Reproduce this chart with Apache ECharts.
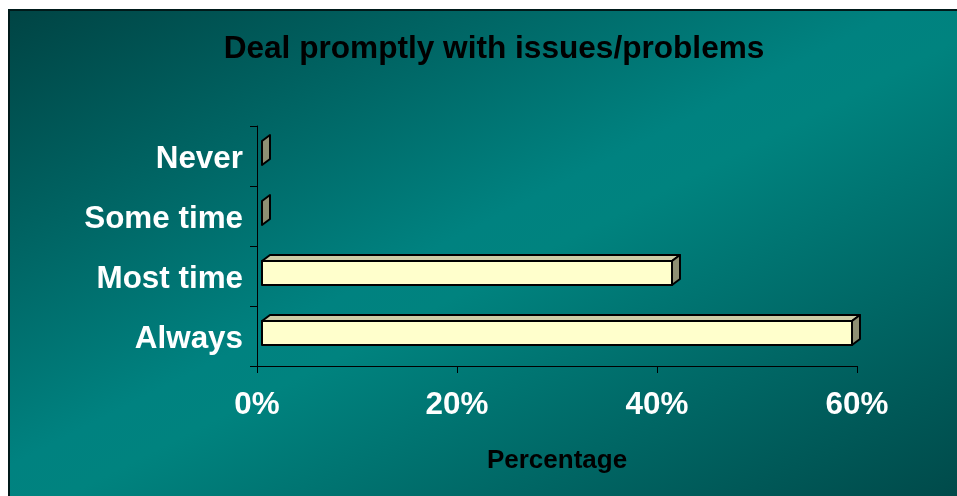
<!DOCTYPE html>
<html>
<head>
<meta charset="utf-8">
<script src="https://cdn.jsdelivr.net/npm/echarts@6/dist/echarts.min.js"></script>
<style>
html,body{margin:0;padding:0;background:#fff;}
#chart{width:957px;height:496px;}
</style>
</head>
<body>
<div id="chart"></div>
<script>
const categories = ['Never', 'Some time', 'Most time', 'Always'];
const percentages = [0, 0, 41, 59];
const xTicks = [0, 20, 40, 60];

const chart = echarts.init(document.getElementById('chart'), null, {renderer: 'canvas'});

const FONT = 'Liberation Sans, Arial, sans-serif';

function renderBox(params, api) {
  const val = api.value(0);
  const cat = api.value(1);
  const p0 = api.coord([0, cat]);
  const p1 = api.coord([val, cat]);
  const shift = 5, dx = 8, dy = -6;
  const xL = p0[0] + shift, xR = p1[0] + shift;
  const yT = p0[1] - 15, yB = p0[1] + 9;
  const stroke = {stroke: '#000', lineWidth: 2, lineJoin: 'round'};
  const children = [];
  if (xR - xL > 0.5) {
    children.push({
      type: 'polygon',
      shape: {points: [[xL, yT], [xL + dx, yT + dy], [xR + dx, yT + dy], [xR, yT]]},
      style: Object.assign({fill: '#CCCCA6'}, stroke)
    });
    children.push({
      type: 'rect',
      shape: {x: xL, y: yT, width: xR - xL, height: yB - yT},
      style: Object.assign({fill: '#FFFFCC'}, stroke)
    });
  }
  children.push({
    type: 'polygon',
    shape: {points: [[xR, yT], [xR + dx, yT + dy], [xR + dx, yB + dy], [xR, yB]]},
    style: Object.assign({fill: '#8F8F73'}, stroke)
  });
  return {type: 'group', children: children};
}

const option = {
  animation: false,
  backgroundColor: '#ffffff',
  graphic: [{
    type: 'rect',
    z: -10,
    silent: true,
    shape: {x: 9, y: 10, width: 960, height: 500},
    style: {
      fill: new echarts.graphic.LinearGradient(286, -132, 680, 638, [
        {offset: 0, color: '#004444'},
        {offset: 0.47, color: '#008280'},
        {offset: 0.53, color: '#00837f'},
        {offset: 1, color: '#004a4a'}
      ], true),
      stroke: '#001a1a',
      lineWidth: 2
    }
  }],
  title: {
    text: 'Deal promptly with issues/problems',
    left: 489,
    top: 28,
    textAlign: 'center',
    textStyle: {fontFamily: FONT, fontWeight: 'bold', fontSize: 31.6, color: '#000'}
  },
  grid: {left: 257, right: 100, top: 126, bottom: 130, containLabel: false},
  xAxis: {
    type: 'value',
    min: xTicks[0],
    max: xTicks[xTicks.length - 1],
    interval: 20,
    name: 'Percentage',
    nameLocation: 'middle',
    nameGap: 82,
    nameTextStyle: {fontFamily: FONT, fontWeight: 'bold', fontSize: 26, color: '#000'},
    axisLine: {show: true, lineStyle: {color: '#000', width: 1}},
    axisTick: {show: true, length: 7, lineStyle: {color: '#000'}},
    splitLine: {show: false},
    axisLabel: {
      formatter: '{value}%',
      margin: 24,
      fontFamily: FONT, fontWeight: 'bold', fontSize: 31.4, color: '#fff'
    }
  },
  yAxis: {
    type: 'category',
    data: categories,
    inverse: true,
    axisLine: {show: true, lineStyle: {color: '#000', width: 1}},
    axisTick: {show: true, length: 7, alignWithLabel: false, lineStyle: {color: '#000'}},
    splitLine: {show: false},
    axisLabel: {
      margin: 14,
      verticalAlign: 'top',
      lineHeight: 6,
      fontFamily: FONT, fontWeight: 'bold', fontSize: 31.4, color: '#fff'
    }
  },
  series: [{
    type: 'custom',
    renderItem: renderBox,
    encode: {x: 0, y: 1},
    data: percentages.map((v, i) => [v, i]),
    clip: false
  }]
};

chart.setOption(option);
</script>
</body>
</html>
